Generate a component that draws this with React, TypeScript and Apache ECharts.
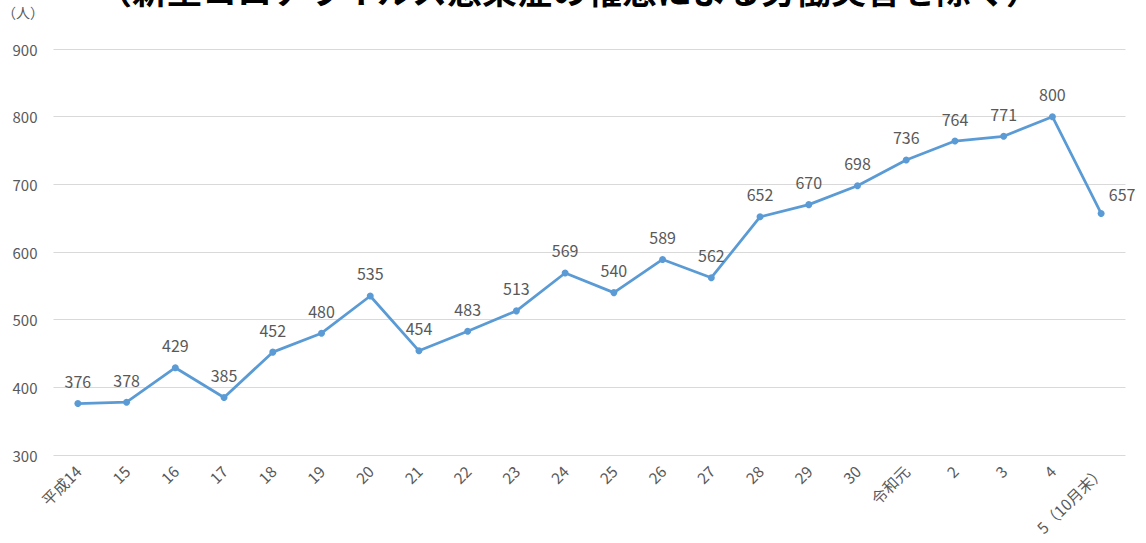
import React, { useEffect, useRef } from "react";
import * as echarts from "echarts";

const titleText = "（新型コロナウイルス感染症の罹患による労働災害を除く）";
const unitText = "（人）";
const categories = [
  "平成14", "15", "16", "17", "18", "19", "20", "21", "22", "23", "24",
  "25", "26", "27", "28", "29", "30", "令和元", "2", "3", "4", "5（10月末）",
];
const values = [
  376, 378, 429, 385, 452, 480, 535, 454, 483, 513, 569,
  540, 589, 562, 652, 670, 698, 736, 764, 771, 800, 657,
];
const yMin = 300;
const yMax = 900;
const yInterval = 100;

export default function App() {
  const ref = useRef<HTMLDivElement>(null);
  useEffect(() => {
    if (!ref.current) return;
    const chart = echarts.init(ref.current, null, { renderer: "svg" });
    const font = "'Noto Sans CJK JP', 'Noto Sans', sans-serif";
    const seriesData = values.map((v, i) =>
      i === values.length - 1
        ? { value: v, label: { offset: [21, 3] } }
        : v
    );
    chart.setOption({
      animation: false,
      textStyle: { fontFamily: font },
      title: {
        text: titleText,
        left: 92,
        top: -34,
        textStyle: { fontSize: 35, fontWeight: "bold", color: "#000", fontFamily: font },
      },
      graphic: [
        {
          type: "text",
          left: 2,
          top: 5,
          style: { text: unitText, fontSize: 14, fill: "#595959", fontFamily: font },
        },
      ],
      grid: { left: 53.5, right: 20.5, top: 49, bottom: 88, containLabel: false },
      xAxis: {
        type: "category",
        data: categories,
        boundaryGap: true,
        axisLine: { show: false },
        axisTick: { show: false },
        axisLabel: {
          rotate: 45,
          color: "#595959",
          fontSize: 15.5,
          margin: 13,
          interval: 0,
          fontFamily: font,
        },
      },
      yAxis: {
        type: "value",
        min: yMin,
        max: yMax,
        interval: yInterval,
        axisLine: { show: false },
        axisTick: { show: false },
        axisLabel: { color: "#595959", fontSize: 15, margin: 16, fontFamily: font },
        splitLine: { lineStyle: { color: "#d9d9d9", width: 1 } },
      },
      series: [
        {
          type: "line",
          data: seriesData,
          symbol: "circle",
          symbolSize: 7,
          lineStyle: { color: "#5B9BD5", width: 2.75 },
          itemStyle: { color: "#5B9BD5" },
          label: {
            show: true,
            position: "top",
            distance: 11,
            color: "#595959",
            fontSize: 16,
            fontFamily: font,
          },
        },
      ],
    });
    return () => chart.dispose();
  }, []);
  return (
    <div
      ref={ref}
      style={{ position: "absolute", left: 0, top: 0, width: 1146, height: 543 }}
    />
  );
}
